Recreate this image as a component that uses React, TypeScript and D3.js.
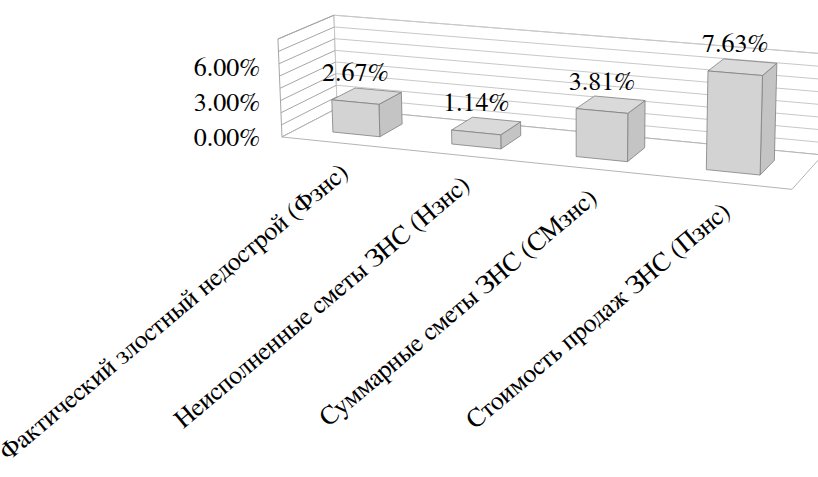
import React from "react";
import * as d3 from "d3";

// Category names, values (percent) and value-axis tick labels
const categories = [
  "Фактический злостный недострой (Фзнс)",
  "Неисполненные сметы ЗНС (Нзнс)",
  "Суммарные сметы ЗНС (СМзнс)",
  "Стоимость продаж ЗНС (Пзнс)",
];
const values = [2.67, 1.14, 3.81, 7.63];
const axisLabels = [0, 3, 6];
const axisMax = 8;
const gridStep = 1;

const WIDTH = 818;
const HEIGHT = 477;

// 3D box in world units: X along categories, Y up (values), Z into the page
const BOX_W = 532.6;
const BOX_H = 102.1;
const BOX_D = 123.1;

// Perspective camera
const CX = 584;
const CY = 121;
const FOCAL = 1965;
const PITCH = (15 * Math.PI) / 180;
const YAW = (20 * Math.PI) / 180;
const ORIGIN = [-307.4, -16.28, 2000];

const sa = Math.sin(PITCH), ca = Math.cos(PITCH);
const sb = Math.sin(YAW), cb = Math.cos(YAW);
const XDIR = [cb, -sb * sa, -sb * ca];
const YDIR = [0, ca, -sa];
const ZDIR = [sb, cb * sa, cb * ca];

function project(X: number, Y: number, Z: number): [number, number] {
  const c = [0, 1, 2].map((i) => ORIGIN[i] + X * XDIR[i] + Y * YDIR[i] + Z * ZDIR[i]);
  return [CX + (FOCAL * c[0]) / c[2], CY - (FOCAL * c[1]) / c[2]];
}

const pts = (list: [number, number, number][]) =>
  list.map((p) => project(p[0], p[1], p[2]).map((v) => v.toFixed(2)).join(",")).join(" ");

const xScale = d3
  .scaleBand<string>()
  .domain(categories)
  .range([0, BOX_W])
  .paddingInner(0.6)
  .paddingOuter(0.3);
const yScale = d3.scaleLinear().domain([0, axisMax]).range([0, BOX_H]);
const gridValues = d3.range(0, axisMax + gridStep / 2, gridStep);

const FONT = "FreeSerif, 'Times New Roman', 'Liberation Serif', serif";
const textStyle = { fontFamily: FONT };

export default function App() {
  const bw = xScale.bandwidth();
  const z0 = (BOX_D - bw) / 2;
  const z1 = z0 + bw;

  const [ax0] = project(0, 0, 0);
  const backZero = project(0, 0, BOX_D)[1];
  const frontZero = project(0, 0, 0)[1];

  return (
    <svg
      width={WIDTH}
      height={HEIGHT}
      style={{ position: "absolute", left: 0, top: 0, background: "#fff" }}
    >
      {/* walls */}
      <polygon
        points={pts([[0, 0, 0], [0, BOX_H, 0], [0, BOX_H, BOX_D], [0, 0, BOX_D]])}
        fill="#fff"
        stroke="#a6a6a6"
        strokeWidth={1}
      />
      <polygon
        points={pts([[0, 0, BOX_D], [0, BOX_H, BOX_D], [BOX_W, BOX_H, BOX_D], [BOX_W, 0, BOX_D]])}
        fill="#fff"
        stroke="#c8c8c8"
        strokeWidth={1}
      />
      {gridValues.map((v) => {
        const y = yScale(v);
        const [a1, b1] = project(0, y, 0);
        const [a2, b2] = project(0, y, BOX_D);
        const [a3, b3] = project(BOX_W, y, BOX_D);
        return (
          <g key={v}>
            <line x1={a1} y1={b1} x2={a2} y2={b2} stroke="#a6a6a6" strokeWidth={1} />
            <line x1={a2} y1={b2} x2={a3} y2={b3} stroke="#c8c8c8" strokeWidth={1} />
          </g>
        );
      })}
      {/* floor */}
      <polygon
        points={pts([[0, 0, 0], [BOX_W, 0, 0], [BOX_W, 0, BOX_D], [0, 0, BOX_D]])}
        fill="#fff"
        stroke="#b4b4b4"
        strokeWidth={1}
      />
      {/* value axis labels */}
      {axisLabels.map((v) => {
        const yb = project(0, yScale(v), BOX_D)[1];
        const y = frontZero + (yb - backZero);
        return (
          <text key={v} x={ax0 - 22} y={y} dy="0.35em" textAnchor="end" fontSize={26} fill="#000" style={textStyle}>
            {v.toFixed(2)}%
          </text>
        );
      })}
      {/* columns */}
      {categories.map((c, i) => {
        const x0 = xScale(c) as number;
        const x1 = x0 + bw;
        const h = yScale(values[i]);
        return (
          <g key={c} stroke="#7f7f7f" strokeWidth={0.8} strokeLinejoin="round">
            <polygon points={pts([[x1, 0, z0], [x1, 0, z1], [x1, h, z1], [x1, h, z0]])} fill="#c4c4c4" />
            <polygon points={pts([[x0, h, z0], [x1, h, z0], [x1, h, z1], [x0, h, z1]])} fill="#dadada" />
            <polygon points={pts([[x0, 0, z0], [x1, 0, z0], [x1, h, z0], [x0, h, z0]])} fill="#d3d3d3" />
          </g>
        );
      })}
      {/* data labels */}
      {categories.map((c, i) => {
        const xm = (xScale(c) as number) + bw / 2;
        const [lx, ly] = project(xm, yScale(values[i]), z0);
        return (
          <text key={c} x={lx} y={ly - 21} textAnchor="middle" fontSize={26} fill="#000" style={textStyle}>
            {values[i].toFixed(2)}%
          </text>
        );
      })}
      {/* category labels */}
      {categories.map((c) => {
        const xm = (xScale(c) as number) + bw / 2;
        const [lx, ly] = project(xm, 0, 0);
        const tx = lx + 9;
        const ty = ly + 32;
        return (
          <text
            key={c}
            x={tx}
            y={ty}
            textAnchor="end"
            fontSize={26}
            fill="#000"
            style={textStyle}
            transform={`rotate(-40, ${tx}, ${ty})`}
          >
            {c}
          </text>
        );
      })}
    </svg>
  );
}
